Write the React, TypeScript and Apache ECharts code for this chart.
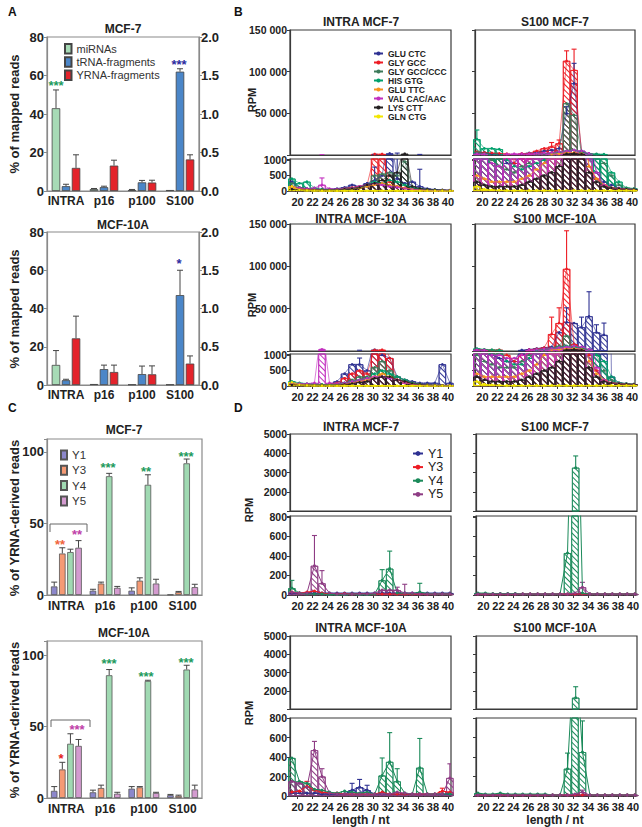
import React, { useEffect, useRef } from 'react';
import * as echarts from 'echarts';

const FONT = '"Liberation Sans", Arial, Helvetica, sans-serif';

// ---------------- Panel A ----------------
const A_CATEGORIES = ['INTRA', 'p16', 'p100', 'S100'];
const A_NAMES = ['miRNAs', 'tRNA-fragments', 'YRNA-fragments'];
const A_COLORS = ['#a7dbb6', '#4b86c8', '#e3232b'];
// left axis (%): miRNAs, tRNA ; right axis: YRNA
const aMcf7Mirna = [43, 1, 0.5, 0.5];
const aMcf7MirnaErr = [52.5, 1.3, 0.8, 0.7];
const aMcf7Trna = [2.5, 2, 4.5, 62];
const aMcf7TrnaErr = [3.5, 2.5, 5.5, 63.5];
const aMcf7Yrna = [0.3, 0.33, 0.11, 0.41];
const aMcf7YrnaErr = [0.47, 0.4, 0.14, 0.47];
const aMcf10aMirna = [10.5, 0.5, 0.3, 0.3];
const aMcf10aMirnaErr = [18, 0.7, 0.5, 0.5];
const aMcf10aTrna = [2.5, 8.3, 5.7, 47];
const aMcf10aTrnaErr = [3, 10.4, 9.9, 60];
const aMcf10aYrna = [0.61, 0.17, 0.14, 0.28];
const aMcf10aYrnaErr = [0.9, 0.26, 0.25, 0.38];

// ---------------- Panel C ----------------
const C_NAMES = ['Y1', 'Y3', 'Y4', 'Y5'];
const C_COLORS = ['#8c87cb', '#f59a74', '#a0d9b2', '#d49bd0'];
const cMcf7Y1 = [6, 3, 3, 0.3];
const cMcf7Y1Err = [9, 4, 5, 0.5];
const cMcf7Y3 = [29, 8, 10, 2];
const cMcf7Y3Err = [33, 9, 12, 2.5];
const cMcf7Y4 = [30, 83, 77, 92];
const cMcf7Y4Err = [32, 85, 84, 95];
const cMcf7Y5 = [33, 5, 8, 5.5];
const cMcf7Y5Err = [38, 6, 11, 7.5];
const cMcf10aY1 = [5, 4, 6.5, 2];
const cMcf10aY1Err = [8, 5.5, 8, 2.5];
const cMcf10aY3 = [20, 7, 7.5, 1.5];
const cMcf10aY3Err = [25, 9, 8, 2];
const cMcf10aY4 = [38, 86, 82, 90];
const cMcf10aY4Err = [45, 90, 82.5, 93];
const cMcf10aY5 = [36.5, 3, 3.5, 6];
const cMcf10aY5Err = [41, 4, 4, 9];

// ---------------- Panel B (RPM by length) ----------------
const LENGTHS = [19, 20, 21, 22, 23, 24, 25, 26, 27, 28, 29, 30, 31, 32, 33, 34, 35, 36, 37, 38, 39, 40];
const B_NAMES = ['GLU CTC', 'GLY GCC', 'GLY GCC/CCC', 'HIS GTG', 'GLU TTC', 'VAL CAC/AAC', 'LYS CTT', 'GLN CTG'];
const B_COLORS = ['#2e3192', '#ed1c24', '#3d7a5a', '#00a06b', '#f7941d', '#c22fbf', '#231f20', '#f2e600'];

const bIntraMcf7 = [
  [300, 120, 80, 60, 50, 50, 80, 120, 200, 150, 250, 350, 500, 2000, 400, 250, 300, 150, 80, 50, 40, 30],
  [150, 80, 60, 50, 40, 40, 50, 80, 120, 150, 200, 1200, 1200, 300, 150, 100, 60, 40, 30, 20, 20, 20],
  [250, 120, 80, 60, 50, 40, 50, 80, 100, 120, 150, 500, 550, 600, 500, 950, 150, 80, 50, 30, 20, 20],
  [400, 250, 300, 100, 60, 50, 40, 60, 80, 120, 200, 300, 250, 350, 300, 200, 100, 60, 40, 30, 20, 20],
  [100, 60, 50, 40, 30, 30, 40, 60, 80, 100, 150, 200, 250, 200, 150, 100, 60, 40, 30, 20, 20, 20],
  [150, 100, 80, 100, 200, 80, 60, 80, 100, 150, 200, 250, 200, 150, 120, 80, 50, 40, 30, 20, 20, 20],
  [60, 40, 30, 30, 30, 30, 40, 60, 80, 120, 200, 250, 350, 500, 600, 1500, 150, 80, 50, 40, 30, 20],
  [150, 40, 20, 15, 10, 10, 10, 10, 10, 10, 10, 10, 15, 15, 10, 10, 10, 10, 10, 10, 10, 10],
];
const bIntraMcf7Err = [[5, 23, 420], [0, 30, 770], [0, 36, 700], [0, 33, 2300]];

const bS100Mcf7 = [
  [2000, 3000, 1500, 1200, 900, 900, 1200, 2500, 3000, 5000, 6000, 8000, 50000, 86000, 5000, 1500, 600, 300, 200, 100, 80, 60],
  [4000, 3000, 2500, 2000, 1500, 900, 1800, 2000, 5000, 8000, 10000, 14000, 113000, 102000, 3000, 800, 400, 200, 100, 80, 60, 50],
  [3000, 1500, 1000, 800, 700, 600, 800, 900, 1200, 1500, 2500, 4000, 62000, 48000, 3000, 1500, 1200, 900, 500, 200, 100, 80],
  [19000, 8000, 8000, 7000, 1000, 800, 700, 800, 900, 1000, 1500, 3000, 5000, 6000, 4000, 1500, 1200, 1100, 600, 300, 100, 80],
  [500, 400, 300, 300, 300, 300, 400, 500, 700, 900, 1200, 1500, 3000, 3000, 2000, 800, 400, 200, 100, 80, 60, 50],
  [1500, 1200, 900, 800, 1200, 1500, 1500, 1500, 2000, 2500, 3000, 4000, 5000, 6000, 5000, 2000, 600, 200, 100, 80, 60, 50],
  [300, 200, 150, 150, 150, 150, 200, 300, 400, 500, 600, 800, 1500, 2000, 1200, 600, 300, 150, 100, 80, 60, 50],
  [150, 60, 40, 30, 20, 20, 20, 20, 20, 20, 20, 20, 20, 20, 20, 20, 20, 20, 20, 20, 20, 20],
];
const bS100Mcf7Err = [[1, 31, 125000], [1, 32, 127000], [0, 32, 110000], [0, 31, 58000], [1, 30, 18000], [1, 29, 15000], [3, 19, 30000]];

const bIntraMcf10a = [
  [100, 60, 50, 40, 40, 50, 150, 400, 700, 700, 500, 1500, 1000, 900, 300, 200, 150, 100, 100, 100, 700, 100],
  [80, 50, 40, 40, 40, 50, 100, 250, 400, 500, 400, 1200, 1500, 900, 200, 150, 100, 60, 40, 30, 20, 20],
  [100, 60, 50, 40, 40, 40, 60, 100, 200, 300, 300, 600, 800, 500, 300, 200, 100, 60, 40, 30, 20, 20],
  [150, 100, 80, 60, 50, 50, 60, 100, 150, 200, 250, 400, 500, 400, 300, 200, 100, 60, 40, 30, 20, 20],
  [80, 50, 40, 30, 30, 30, 40, 60, 100, 150, 200, 300, 400, 300, 200, 100, 60, 40, 30, 20, 20, 20],
  [100, 80, 80, 100, 2000, 100, 80, 100, 150, 200, 250, 300, 300, 250, 200, 100, 60, 40, 30, 20, 20, 20],
  [40, 30, 20, 20, 20, 20, 30, 50, 80, 120, 150, 250, 300, 300, 200, 150, 80, 50, 30, 20, 20, 20],
  [120, 40, 20, 15, 10, 10, 10, 10, 10, 10, 10, 10, 10, 10, 10, 10, 10, 10, 10, 10, 10, 10],
];
const bIntraMcf10aErr = [[0, 28, 900], [5, 23, 2100]];

const bS100Mcf10a = [
  [1500, 1200, 1000, 900, 800, 800, 1200, 2000, 3000, 4000, 5000, 22000, 34000, 33000, 28000, 41000, 22000, 19000, 300, 100, 80, 60],
  [2000, 1500, 1200, 1500, 1000, 800, 1000, 1500, 2500, 4000, 20000, 33000, 97000, 8000, 3000, 1000, 500, 200, 100, 80, 60, 50],
  [1000, 800, 700, 600, 600, 600, 800, 1000, 1500, 2000, 3000, 6000, 18000, 6000, 3000, 1500, 1000, 500, 200, 100, 80, 60],
  [3000, 2000, 1500, 1200, 800, 700, 700, 900, 1200, 2000, 3000, 4000, 6000, 5000, 4000, 1500, 1000, 800, 300, 100, 80, 60],
  [400, 300, 300, 300, 300, 300, 400, 500, 700, 1000, 1500, 2000, 3000, 3000, 2000, 800, 400, 200, 100, 80, 60, 50],
  [1500, 1200, 1000, 1000, 900, 900, 1000, 1500, 2000, 2500, 3000, 4000, 5000, 6000, 5000, 2000, 600, 200, 100, 80, 60, 50],
  [300, 200, 150, 150, 150, 150, 200, 300, 400, 500, 600, 800, 1500, 2000, 1200, 600, 300, 150, 100, 80, 60, 50],
  [150, 60, 40, 30, 20, 20, 20, 20, 20, 20, 20, 20, 20, 20, 20, 20, 20, 20, 20, 20, 20, 20],
];
const bS100Mcf10aErr = [[1, 31, 142000], [1, 30, 51000], [1, 29, 40000], [0, 31, 51000], [0, 34, 70000], [0, 35, 31000], [0, 33, 40000], [0, 36, 33000]];

// ---------------- Panel D (YRNA RPM by length) ----------------
const D_NAMES = ['Y1', 'Y3', 'Y4', 'Y5'];
const D_COLORS = ['#2e3192', '#ed1c24', '#1b8a5a', '#8e3c84'];
const dIntraMcf7 = [
  [20, 20, 20, 20, 20, 20, 20, 20, 20, 20, 20, 20, 20, 20, 20, 20, 20, 20, 20, 20, 20, 20],
  [30, 20, 30, 40, 20, 10, 10, 15, 10, 10, 10, 10, 10, 10, 10, 10, 10, 10, 10, 10, 10, 10],
  [70, 20, 10, 10, 10, 5, 5, 5, 10, 5, 5, 10, 150, 270, 20, 20, 15, 30, 15, 10, 10, 10],
  [30, 20, 20, 300, 120, 20, 10, 10, 10, 10, 10, 20, 50, 50, 50, 20, 20, 10, 10, 10, 10, 10],
];
const dIntraMcf7Err = [[2, 19, 150], [2, 31, 260], [2, 32, 450], [2, 36, 120], [3, 22, 610], [3, 23, 250], [3, 34, 110], [3, 33, 80]];
const dS100Mcf7 = [
  [10, 10, 10, 10, 10, 10, 10, 10, 10, 10, 10, 10, 10, 10, 10, 10, 10, 10, 10, 10, 10, 10],
  [10, 10, 10, 10, 10, 10, 10, 10, 10, 10, 10, 10, 10, 10, 10, 10, 10, 10, 10, 10, 10, 10],
  [20, 20, 15, 15, 15, 15, 10, 10, 10, 10, 10, 10, 430, 3250, 20, 10, 10, 10, 10, 10, 10, 10],
  [10, 10, 10, 10, 10, 10, 10, 10, 10, 10, 10, 10, 10, 20, 80, 10, 10, 10, 10, 10, 10, 10],
];
const dS100Mcf7Err = [[2, 32, 3860], [3, 33, 130]];
const dIntraMcf10a = [
  [30, 30, 30, 30, 20, 20, 20, 20, 60, 90, 60, 20, 20, 20, 20, 20, 20, 20, 20, 20, 20, 20],
  [40, 50, 100, 60, 40, 30, 30, 20, 20, 20, 20, 20, 40, 20, 20, 20, 20, 20, 20, 20, 50, 40],
  [390, 150, 130, 70, 60, 40, 30, 50, 40, 30, 40, 20, 210, 350, 150, 30, 20, 290, 20, 20, 20, 20],
  [150, 130, 90, 470, 200, 30, 20, 20, 20, 20, 20, 20, 20, 20, 40, 30, 20, 20, 20, 20, 20, 185],
];
const dIntraMcf10aErr = [[2, 31, 390], [2, 32, 650], [2, 33, 280], [2, 36, 590], [3, 22, 560], [3, 23, 280], [3, 40, 330], [0, 27, 130], [0, 28, 170], [0, 29, 110], [1, 21, 150], [1, 39, 80]];
const dS100Mcf10a = [
  [10, 10, 10, 10, 10, 10, 10, 10, 10, 10, 10, 10, 10, 10, 10, 10, 10, 10, 10, 10, 10, 10],
  [10, 10, 10, 10, 10, 10, 10, 10, 10, 10, 10, 10, 10, 10, 10, 10, 10, 10, 10, 10, 10, 10],
  [30, 20, 20, 30, 20, 20, 20, 20, 20, 20, 10, 10, 280, 1620, 450, 10, 10, 10, 10, 10, 10, 10],
  [10, 10, 10, 10, 10, 10, 10, 10, 10, 10, 10, 10, 10, 20, 40, 10, 10, 10, 10, 10, 10, 10],
];
const dS100Mcf10aErr = [[2, 31, 440], [2, 32, 2220], [2, 33, 770], [3, 33, 60]];

const X_TICKS = [20, 22, 24, 26, 28, 30, 32, 34, 36, 38, 40];

// ----------------------------------------------------------
const OFF = 0.25;
const hatch = (c: string) => ({
  symbol: 'rect',
  symbolSize: 1,
  color: c,
  backgroundColor: 'rgba(0,0,0,0)',
  dashArrayX: [1, 0],
  dashArrayY: [1, 2.5],
  rotation: Math.PI / 4,
});

function buildOption() {
  const grid: any[] = [];
  const xAxis: any[] = [];
  const yAxis: any[] = [];
  const series: any[] = [];
  const graphic: any[] = [];
  const boxA = '#8a8a8a';
  const boxB = '#3a3a3a';
  const lbl = { fontFamily: FONT, fontWeight: 'bold', fontSize: 12, color: '#222' };

  const catErr = (xi: number, yi: number, means: number[], errs: number[], off: number) => ({
    type: 'custom',
    xAxisIndex: xi,
    yAxisIndex: yi,
    z: 1,
    silent: true,
    data: means.map((m, i) => [i, m, errs[i]]),
    renderItem: (_p: any, api: any) => {
      const a = api.coord([api.value(0), api.value(1)]);
      const b = api.coord([api.value(0), api.value(2)]);
      const x = a[0] + off;
      if (b[1] >= a[1] - 0.5) return { type: 'group', children: [] };
      return {
        type: 'group',
        children: [
          { type: 'line', shape: { x1: x, y1: a[1], x2: x, y2: b[1] }, style: { stroke: '#444', lineWidth: 1 } },
          { type: 'line', shape: { x1: x - 3, y1: b[1], x2: x + 3, y2: b[1] }, style: { stroke: '#444', lineWidth: 1 } },
        ],
      };
    },
  });

  // ---- Panel A ----
  const aPanels = [
    { top: 37, height: 154, m: [aMcf7Mirna, aMcf7Trna, aMcf7Yrna], e: [aMcf7MirnaErr, aMcf7TrnaErr, aMcf7YrnaErr] },
    { top: 232, height: 153, m: [aMcf10aMirna, aMcf10aTrna, aMcf10aYrna], e: [aMcf10aMirnaErr, aMcf10aTrnaErr, aMcf10aYrnaErr] },
  ];
  aPanels.forEach((p) => {
    const gi = grid.length;
    grid.push({ left: 47, top: p.top, width: 152, height: p.height, show: true, borderColor: boxA, borderWidth: 1.2 });
    const xi = xAxis.length;
    xAxis.push({
      type: 'category', gridIndex: gi, data: A_CATEGORIES,
      axisLine: { lineStyle: { color: boxA, width: 1.2 } }, axisTick: { show: false },
      axisLabel: { ...lbl, fontSize: 12, margin: 4, interval: 0 },
    });
    const yl = yAxis.length;
    yAxis.push({
      type: 'value', gridIndex: gi, min: 0, max: 80, interval: 20,
      axisLine: { show: true, lineStyle: { color: boxA, width: 1.2 } },
      axisTick: { show: true, length: 3, lineStyle: { color: boxA } },
      splitLine: { show: false }, axisLabel: { ...lbl, fontSize: 13, margin: 3 },
    });
    yAxis.push({
      type: 'value', gridIndex: gi, position: 'right', min: 0, max: 2, interval: 0.5,
      axisLine: { show: true, lineStyle: { color: boxA, width: 1.2 } },
      axisTick: { show: true, length: 3, lineStyle: { color: boxA } },
      splitLine: { show: false },
      axisLabel: { ...lbl, fontSize: 13, margin: 2, formatter: (v: number) => v.toFixed(1) },
    });
    A_NAMES.forEach((name, k) => {
      const yi = k === 2 ? yl + 1 : yl;
      series.push({
        type: 'bar', name, xAxisIndex: xi, yAxisIndex: yi, data: p.m[k], barWidth: 8.5, barGap: '18%',
        itemStyle: { color: A_COLORS[k], borderColor: '#444', borderWidth: 0.8, decal: 'none' }, z: 2,
      });
      series.push(catErr(xi, yi, p.m[k], p.e[k], (k - 1) * 10));
    });
  });

  // ---- Panel C ----
  const cPanels = [
    { top: 439, height: 156, max: 109, m: [cMcf7Y1, cMcf7Y3, cMcf7Y4, cMcf7Y5], e: [cMcf7Y1Err, cMcf7Y3Err, cMcf7Y4Err, cMcf7Y5Err] },
    { top: 641, height: 157, max: 110, m: [cMcf10aY1, cMcf10aY3, cMcf10aY4, cMcf10aY5], e: [cMcf10aY1Err, cMcf10aY3Err, cMcf10aY4Err, cMcf10aY5Err] },
  ];
  cPanels.forEach((p) => {
    const gi = grid.length;
    grid.push({ left: 47, top: p.top, width: 155, height: p.height, show: true, borderColor: boxA, borderWidth: 1.2 });
    const xi = xAxis.length;
    xAxis.push({
      type: 'category', gridIndex: gi, data: A_CATEGORIES,
      axisLine: { lineStyle: { color: boxA, width: 1.2 } }, axisTick: { show: false },
      axisLabel: { ...lbl, fontSize: 12, margin: 5, interval: 0 },
    });
    const yi = yAxis.length;
    yAxis.push({
      type: 'value', gridIndex: gi, min: 0, max: p.max, interval: 50,
      axisLine: { show: true, lineStyle: { color: boxA, width: 1.2 } },
      axisTick: { show: true, length: 3, lineStyle: { color: boxA } },
      splitLine: { show: false },
      axisLabel: { ...lbl, fontSize: 13, margin: 3, formatter: (v: number) => (v % 50 === 0 ? String(v) : '') },
    });
    C_NAMES.forEach((name, k) => {
      series.push({
        type: 'bar', name, xAxisIndex: xi, yAxisIndex: yi, data: p.m[k], barWidth: 6.5, barGap: '25%',
        itemStyle: { color: C_COLORS[k], borderColor: '#555', borderWidth: 0.8, decal: 'none' }, z: 2,
      });
      series.push(catErr(xi, yi, p.m[k], p.e[k], (k - 1.5) * 8.1));
    });
  });

  // ---- broken-axis panels (B and D) ----
  type Part = { top: number; height: number; min: number; max: number; interval: number; fmt: (v: number) => string };
  const addBroken = (
    left: number, width: number, parts: Part[], means: number[][], errs: number[][],
    names: string[], colors: string[], showYLabels: boolean, lineW: number, symSize: number,
  ) => {
    const lowerMax = parts[parts.length - 1].max;
    parts.forEach((part, pi) => {
      const isLower = pi === parts.length - 1;
      const gi = grid.length;
      grid.push({ left, top: part.top, width, height: part.height, show: true, borderColor: boxB, borderWidth: 1.2 });
      const xi = xAxis.length;
      xAxis.push({
        type: 'value', gridIndex: gi, min: 19, max: 40.4,
        axisLine: { show: true, onZero: false, lineStyle: { color: boxB, width: 1.2 } },
        axisTick: { show: isLower, length: 3, customValues: X_TICKS, lineStyle: { color: boxB } },
        axisLabel: { show: isLower, ...lbl, fontSize: 11, margin: 5, customValues: X_TICKS },
        splitLine: { show: false },
      });
      const yi = yAxis.length;
      yAxis.push({
        type: 'value', gridIndex: gi, min: part.min, max: part.max, interval: part.interval,
        axisLine: { show: true, lineStyle: { color: boxB, width: 1.2 } },
        axisTick: { show: true, length: 3, lineStyle: { color: boxB } },
        splitLine: { show: false },
        axisLabel: { show: showYLabels, ...lbl, fontSize: 10.5, margin: 3, formatter: part.fmt },
      });
      means.forEach((vals, k) => {
        const c = colors[k];
        // in the upper (broken) part only values above the lower part's range are shown
        const pts = LENGTHS.map((n, i) => [n + OFF, isLower || vals[i] > lowerMax ? vals[i] : null]);
        series.push({
          type: 'line', name: names[k], xAxisIndex: xi, yAxisIndex: yi, data: pts,
          symbol: 'circle', symbolSize: symSize, showSymbol: true, clip: true, z: 4, connectNulls: false,
          lineStyle: { color: c, width: lineW }, itemStyle: { color: c },
        });
        series.push({
          type: 'bar', xAxisIndex: xi, yAxisIndex: yi, data: pts, barWidth: 7.4, barGap: '-100%', clip: true, z: 2,
          itemStyle: { color: 'rgba(255,255,255,0)', borderColor: c, borderWidth: 0.8, decal: hatch(c) },
        });
      });
      const errData = errs.map((e) => [e[1] + OFF, means[e[0]][LENGTHS.indexOf(e[1])], e[2], e[0]]);
      series.push({
        type: 'custom', xAxisIndex: xi, yAxisIndex: yi, clip: true, z: 3, silent: true, data: errData,
        renderItem: (_p: any, api: any) => {
          const a = api.coord([api.value(0), api.value(1)]);
          const b = api.coord([api.value(0), api.value(2)]);
          const c = colors[api.value(3)];
          return {
            type: 'group',
            children: [
              { type: 'line', shape: { x1: a[0], y1: a[1], x2: a[0], y2: b[1] }, style: { stroke: c, lineWidth: 1.1 } },
              { type: 'line', shape: { x1: a[0] - 2.5, y1: b[1], x2: a[0] + 2.5, y2: b[1] }, style: { stroke: c, lineWidth: 1.1 } },
            ],
          };
        },
      });
    });
  };

  const fmtK = (v: number) => (v === 0 ? '' : `${v / 1000} 000`);
  const fmt500 = (v: number) => (v % 500 === 0 ? String(v) : '');
  const fmtUp = (v: number) => (v === 1000 ? '' : String(v));
  const fmt200 = (v: number) => (v % 200 === 0 ? String(v) : '');

  const bTop: Part[] = [
    { top: 30, height: 125, min: 0, max: 150000, interval: 50000, fmt: fmtK },
    { top: 159, height: 32, min: 0, max: 1030, interval: 500, fmt: fmt500 },
  ];
  const bBot: Part[] = [
    { top: 224, height: 127, min: 0, max: 150000, interval: 50000, fmt: fmtK },
    { top: 354, height: 32, min: 0, max: 1030, interval: 500, fmt: fmt500 },
  ];
  addBroken(290, 161, bTop, bIntraMcf7, bIntraMcf7Err, B_NAMES, B_COLORS, true, 0.6, 2.6);
  addBroken(475, 160, bTop, bS100Mcf7, bS100Mcf7Err, B_NAMES, B_COLORS, false, 0.6, 2.6);
  addBroken(290, 161, bBot, bIntraMcf10a, bIntraMcf10aErr, B_NAMES, B_COLORS, true, 0.6, 2.6);
  addBroken(475, 160, bBot, bS100Mcf10a, bS100Mcf10aErr, B_NAMES, B_COLORS, false, 0.6, 2.6);

  const dNames = D_NAMES.map((n) => 'D:' + n);
  const dTop: Part[] = [
    { top: 434, height: 77, min: 1000, max: 5000, interval: 1000, fmt: fmtUp },
    { top: 516, height: 79, min: 0, max: 810, interval: 200, fmt: fmt200 },
  ];
  const dBot: Part[] = [
    { top: 636, height: 73, min: 1000, max: 5000, interval: 1000, fmt: fmtUp },
    { top: 718, height: 78, min: 0, max: 800, interval: 200, fmt: fmt200 },
  ];
  addBroken(290, 161, dTop, dIntraMcf7, dIntraMcf7Err, dNames, D_COLORS, true, 1, 3);
  addBroken(476, 161, dTop, dS100Mcf7, dS100Mcf7Err, dNames, D_COLORS, false, 1, 3);
  addBroken(290, 161, dBot, dIntraMcf10a, dIntraMcf10aErr, dNames, D_COLORS, true, 1, 3);
  addBroken(476, 161, dBot, dS100Mcf10a, dS100Mcf10aErr, dNames, D_COLORS, false, 1, 3);

  // ---- texts ----
  const txt = (text: string, x: number, y: number, size: number, color = '#222', bold = true, rot = 0, align = 'center') => ({
    type: 'text', x, y, rotation: rot, z: 50,
    style: { text, fill: color, font: `${bold ? 'bold ' : ''}${size}px ${FONT}`, textAlign: align, textVerticalAlign: 'middle' },
  });
  graphic.push(
    txt('A', 8, 12, 12, '#111', true, 0, 'left'),
    txt('B', 234, 12, 12, '#111', true, 0, 'left'),
    txt('C', 8, 408, 12, '#111', true, 0, 'left'),
    txt('D', 234, 408, 12, '#111', true, 0, 'left'),
    txt('MCF-7', 123, 29, 12),
    txt('MCF-10A', 123, 225, 12),
    txt('MCF-7', 124, 430, 12),
    txt('MCF-10A', 124, 633, 12),
    txt('INTRA MCF-7', 361, 22, 12),
    txt('S100 MCF-7', 555, 22, 12),
    txt('INTRA MCF-10A', 361, 219, 12),
    txt('S100 MCF-10A', 555, 219, 12),
    txt('INTRA MCF-7', 361, 427, 12),
    txt('S100 MCF-7', 555, 427, 12),
    txt('INTRA MCF-10A', 361, 628, 12),
    txt('S100 MCF-10A', 555, 628, 12),
    txt('% of mapped reads', 14, 114, 13, '#222', true, Math.PI / 2),
    txt('% of mapped reads', 14, 309, 13, '#222', true, Math.PI / 2),
    txt('% of YRNA-derived reads', 14, 518, 13, '#222', true, Math.PI / 2),
    txt('% of YRNA-derived reads', 14, 720, 13, '#222', true, Math.PI / 2),
    txt('RPM', 252, 100, 11, '#222', true, Math.PI / 2),
    txt('RPM', 252, 305, 11, '#222', true, Math.PI / 2),
    txt('RPM', 249, 510, 11, '#222', true, Math.PI / 2),
    txt('RPM', 249, 713, 11, '#222', true, Math.PI / 2),
    txt('length / nt', 361, 820, 12),
    txt('length / nt', 555, 820, 12),
    // significance marks
    txt('***', 56, 85, 13, '#1d9a5c'),
    txt('***', 179, 64, 13, '#2b2ba0'),
    txt('*', 179, 263, 13, '#2b2ba0'),
    txt('**', 60, 544, 13, '#f0643c'),
    txt('**', 77, 534, 13, '#c040a8'),
    txt('***', 108, 467, 13, '#1d9a5c'),
    txt('**', 146, 471, 13, '#1d9a5c'),
    txt('***', 186, 456, 13, '#1d9a5c'),
    txt('*', 61, 758, 13, '#e42020'),
    txt('***', 77, 729, 13, '#c040a8'),
    txt('***', 109, 663, 13, '#1d9a5c'),
    txt('***', 146, 676, 13, '#1d9a5c'),
    txt('***', 186, 662, 13, '#1d9a5c'),
    {
      type: 'polyline', z: 50,
      shape: { points: [[50, 532], [50, 524], [87, 524], [87, 532]] },
      style: { stroke: '#666', lineWidth: 1, fill: 'none' },
    },
    {
      type: 'polyline', z: 50,
      shape: { points: [[51, 727], [51, 720], [90, 720], [90, 727]] },
      style: { stroke: '#666', lineWidth: 1, fill: 'none' },
    },
  );

  return {
    animation: false,
    backgroundColor: '#ffffff',
    textStyle: { fontFamily: FONT },
    grid, xAxis, yAxis, series, graphic,
    legend: [
      {
        data: A_NAMES, left: 59, top: 38, orient: 'vertical', icon: 'rect', itemWidth: 6.5, itemHeight: 9.5,
        itemGap: 1.8, selectedMode: false,
        textStyle: { fontFamily: FONT, fontSize: 11, lineHeight: 10, color: '#333' },
      },
      {
        data: C_NAMES, left: 55, top: 444, orient: 'vertical', icon: 'rect', itemWidth: 6, itemHeight: 9,
        itemGap: 3.3, selectedMode: false,
        textStyle: { fontFamily: FONT, fontSize: 11.5, lineHeight: 9, color: '#333' },
      },
      {
        data: B_NAMES, left: 368, top: 44, orient: 'vertical', itemWidth: 9, itemHeight: 5, itemGap: 0,
        selectedMode: false,
        textStyle: { fontFamily: FONT, fontSize: 8.5, lineHeight: 8.7, fontWeight: 'bold', color: '#222' },
      },
      {
        data: dNames, left: 407, top: 442, orient: 'vertical', itemWidth: 10, itemHeight: 6, itemGap: 0.6,
        selectedMode: false, formatter: (n: string) => n.slice(2),
        textStyle: { fontFamily: FONT, fontSize: 12.5, lineHeight: 12, color: '#222' },
      },
    ],
  };
}

export default function App() {
  const ref = useRef<HTMLDivElement>(null);
  useEffect(() => {
    document.body.style.margin = '0';
    const chart = echarts.init(ref.current!, null, { renderer: 'svg' });
    chart.setOption(buildOption() as any);
    return () => chart.dispose();
  }, []);
  return <div ref={ref} style={{ width: 642, height: 827 }} />;
}
